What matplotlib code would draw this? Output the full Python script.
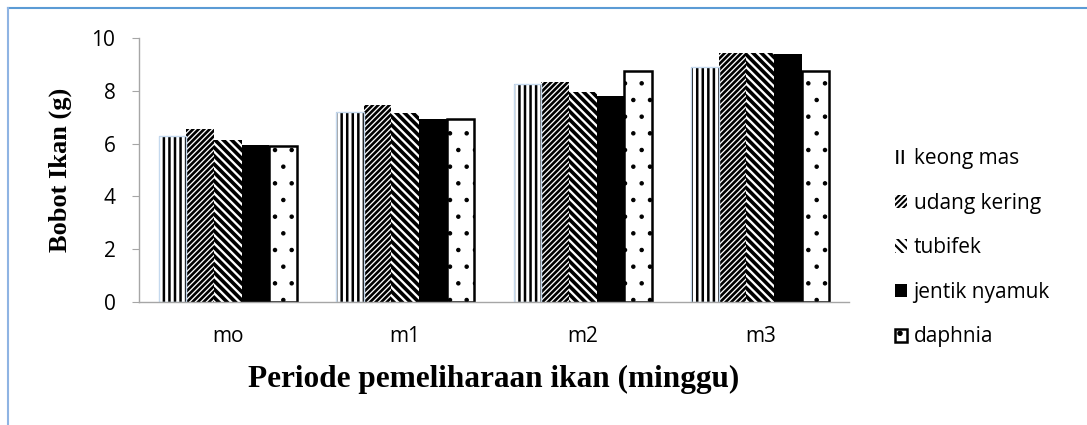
import matplotlib
matplotlib.use("Agg")
import matplotlib.pyplot as plt
import numpy as np
from matplotlib.lines import Line2D

categories = ["mo", "m1", "m2", "m3"]
series_names = ["keong mas", "udang kering", "tubifek", "jentik nyamuk", "daphnia"]
keong_mas = [6.28, 7.20, 8.26, 8.91]
udang_kering = [6.55, 7.48, 8.32, 9.42]
tubifek = [6.15, 7.15, 7.97, 9.42]
jentik_nyamuk = [5.96, 6.94, 7.80, 9.38]
daphnia = [5.90, 6.92, 8.76, 8.76]
yticks = [0, 2, 4, 6, 8, 10]

SANS = "Open Sans"
SERIF = "Liberation Serif"

plt.rcParams['hatch.linewidth'] = 1.5

fig = plt.figure(figsize=(10.87, 4.25), dpi=100)
ax = fig.add_axes([0.1279, 0.2894, 0.781 - 0.1279, 0.9106 - 0.2894])

x = np.arange(len(categories))
w = 0.156
series = [keong_mas, udang_kering, tubifek, jentik_nyamuk, daphnia]
styles = [
    dict(facecolor="white", edgecolor="black", hatch="|||", linewidth=0),
    dict(facecolor="white", edgecolor="black", hatch="//////", linewidth=0),
    dict(facecolor="white", edgecolor="black", hatch="\\\\\\\\", linewidth=0),
    dict(facecolor="black", edgecolor="black", linewidth=0),
    dict(facecolor="white", edgecolor="black", hatch=".", linewidth=1.8),
]
hatch_lw = [1.8, 1.9, 2.6, 1.0, 0.8]
handles = []
for i, (vals, st) in enumerate(zip(series, styles)):
    offs = (i - 2) * w
    b = ax.bar(x + offs, vals, width=w, label=series_names[i], **st)
    for p in b.patches:
        if hasattr(p, "set_hatch_linewidth"):
            p.set_hatch_linewidth(hatch_lw[i])
    handles.append(b)
# light blue outline on keong mas bars
ax.bar(x - 2 * w, keong_mas, width=w, fill=False, edgecolor="#c5d9ee", linewidth=1.0)

ax.set_xlim(-0.5, 3.5)
ax.set_ylim(0, 10)
ax.set_yticks(yticks)
ax.set_xticks(x)
ax.set_xticklabels(categories)
for s in ["top", "right"]:
    ax.spines[s].set_visible(False)
for s in ["left", "bottom"]:
    ax.spines[s].set_color("#a6a6a6")
    ax.spines[s].set_linewidth(1.0)
ax.tick_params(axis="y", direction="out", length=5, color="#a6a6a6", pad=12,
               labelsize=15)
ax.tick_params(axis="x", length=0, pad=17, labelsize=15)
for lab in ax.get_xticklabels() + ax.get_yticklabels():
    lab.set_fontfamily(SANS)

ax.set_ylabel("Bobot Ikan (g)", family=SERIF, fontweight="bold",
              fontsize=19, labelpad=14)
ax.set_xlabel("Periode pemeliharaan ikan (minggu)", family=SERIF,
              fontweight="bold", fontsize=22.5, labelpad=13)

leg = ax.legend(handles=handles, loc="center left", bbox_to_anchor=(1.05, 0.205),
                frameon=False, prop={"family": SANS, "size": 15},
                handlelength=0.6, handleheight=0.6, handletextpad=0.3,
                labelspacing=1.13, borderpad=0)

# figure border (top and left)
fig.add_artist(Line2D([8 / 1087, 1.0], [1 - 8 / 425, 1 - 8 / 425],
                      transform=fig.transFigure, color="#5b9bd5", linewidth=1.5))
fig.add_artist(Line2D([8 / 1087, 8 / 1087], [0, 1 - 8 / 425],
                      transform=fig.transFigure, color="#8fb4e3", linewidth=1.5))

fig.savefig("out.png", dpi=100)
